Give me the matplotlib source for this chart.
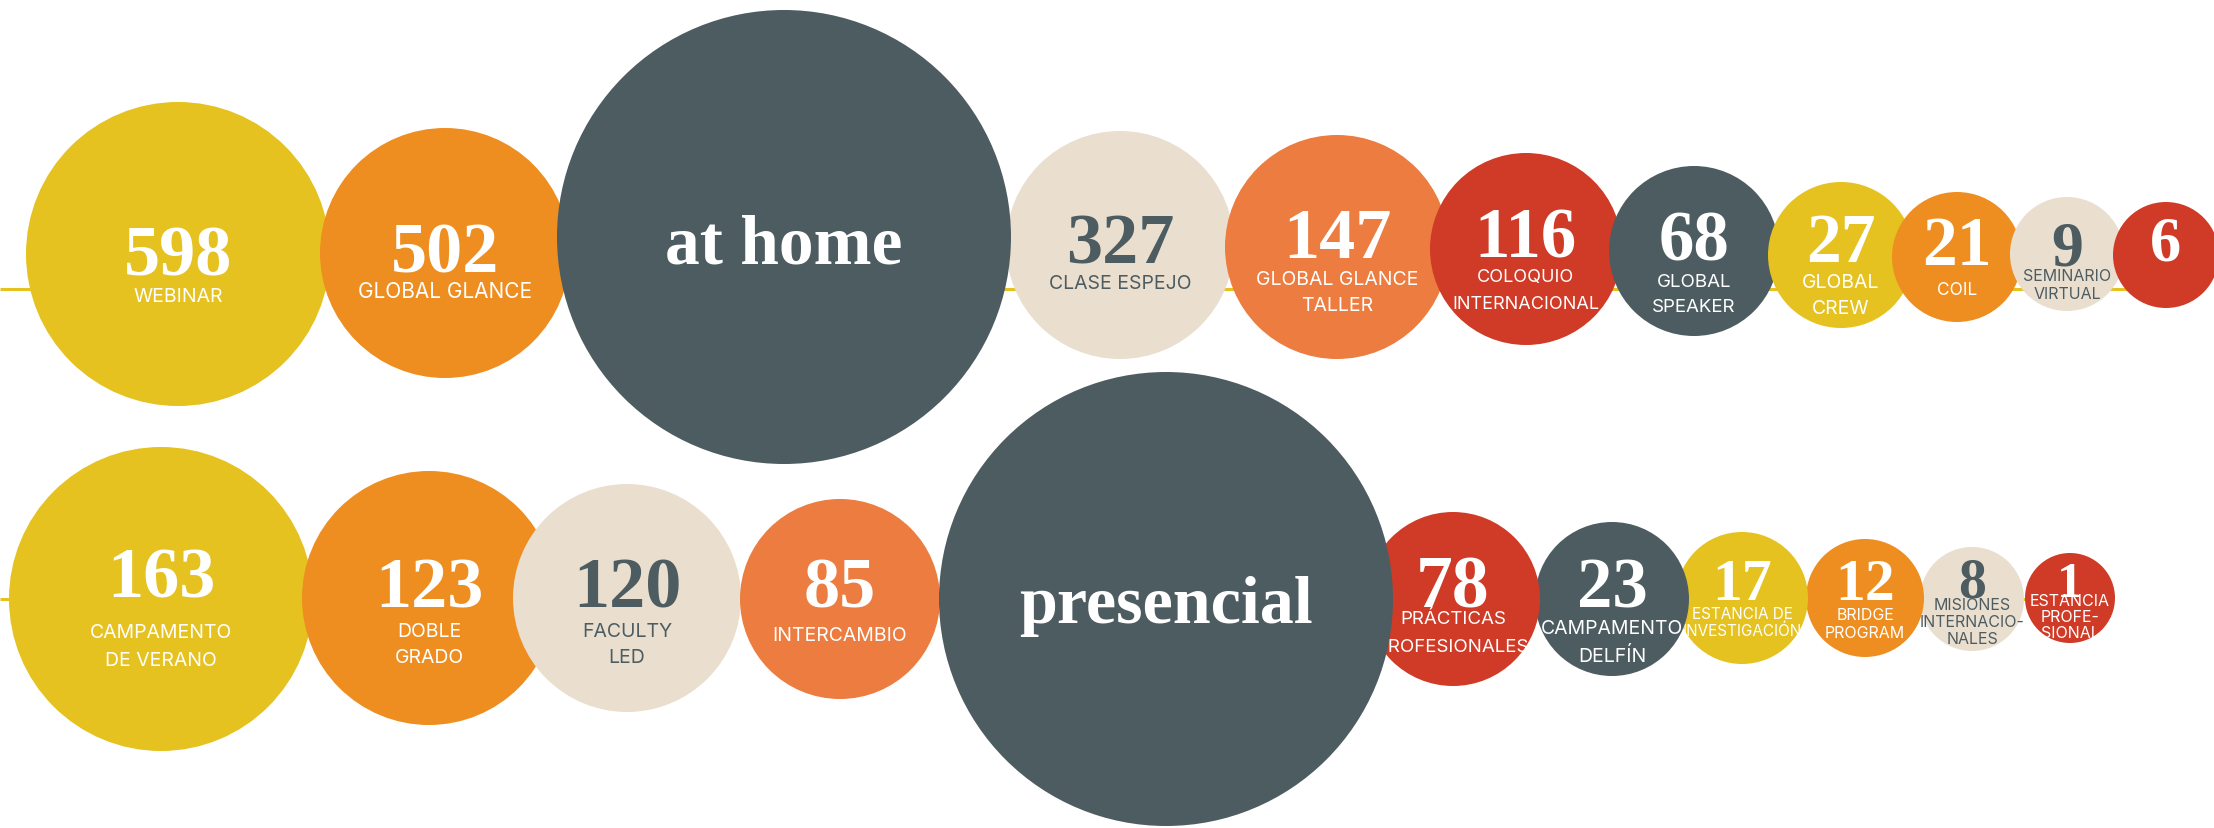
import numpy as np
import matplotlib
matplotlib.use("Agg")
import matplotlib.pyplot as plt
from matplotlib.patches import Circle
from matplotlib.font_manager import FontProperties

# palette
YELLOW = "#E5C220"
ORANGE = "#EE8E21"
CORAL = "#EC7C3F"
RED = "#D03B27"
SLATE = "#4D5C61"
BEIGE = "#EADFCF"

# ---- data ----
top_values = [598, 502, 327, 147, 116, 68, 27, 21, 9, 6]
top_labels = ["WEBINAR", "GLOBAL GLANCE", "CLASE ESPEJO", "GLOBAL GLANCE\nTALLER",
              "COLOQUIO\nINTERNACIONAL", "GLOBAL\nSPEAKER", "GLOBAL\nCREW", "COIL",
              "SEMINARIO\nVIRTUAL", ""]
top_colors = [YELLOW, ORANGE, BEIGE, CORAL, RED, SLATE, YELLOW, ORANGE, BEIGE, RED]
top_hub = "at home"
top_hub_at = 2

bot_values = [163, 123, 120, 85, 78, 23, 17, 12, 8, 1]
bot_labels = ["CAMPAMENTO\nDE VERANO", "DOBLE\nGRADO", "FACULTY\nLED", "INTERCAMBIO",
              "PRÁCTICAS\nPROFESIONALES", "CAMPAMENTO\nDELFÍN", "ESTANCIA DE\nINVESTIGACIÓN",
              "BRIDGE\nPROGRAM", "MISIONES\nINTERNACIO-\nNALES", "ESTANCIA\nPROFE-\nSIONAL"]
bot_colors = [YELLOW, ORANGE, BEIGE, CORAL, RED, SLATE, YELLOW, ORANGE, BEIGE, RED]
bot_hub = "presencial"
bot_hub_at = 4

# ---- layout (pixels, hub included in position order) ----
top_layout = dict(
    x0=178, line_y=290,
    r=[152, 125, 227, 114, 112, 96, 85, 73, 65, 57, 53],
    overlap=[10, 13, 5, 9, 19, 13, 11, 22, 12, 11],
    cy=[255, 254, 238, 246, 248, 250, 252, 256, 258, 255, 256],
    stack=[1, 2, 20, 3, 4, 5, 6, 7, 8, 9, 10],
    num_dy=[20, 18, 25, 17, 10, 7, 8, 6, 7, 10, 4],
    lab_dy=[33, 29, 0, 29, 27, 23, 25, 22, 24, 17, 0],
    num_pt=[52, 52, 50, 52, 52, 51, 51, 50, 50, 46, 45],
    lab_pt=[14, 15, 0, 14, 14, 13, 13.5, 14, 12.5, 11.5, 0],
    lead=[22, 22, 0, 22, 22, 23, 21, 22, 22, 15, 0],
)
bot_layout = dict(
    x0=161, line_y=600,
    r=[152, 127, 114, 100, 227, 87, 77, 66, 59, 52, 45],
    overlap=[11, 43, 1, 1, 27, 5, 13, 2, 4, -1],
    cy=[600, 599, 599, 600, 600, 600, 600, 599, 599, 600, 599],
    stack=[1, 2, 3, 4, 20, 10, 9, 8, 7, 6, 5],
    num_dy=[-2, 8, 8, 7, 23, 7, 7, 1, 1, -3, -2],
    lab_dy=[28, 28, 28, 27, 0, 15, 26, 13, 13, 5, 1],
    num_pt=[52, 52, 52, 52, 49, 53, 51, 43, 43, 40, 37],
    lab_pt=[14, 14, 14, 14, 0, 13.5, 14, 11, 11.5, 11.5, 11.5],
    lead=[24, 22, 22, 22, 0, 23, 22, 13, 15, 13.5, 13],
)

NUM_FONT = "Liberation Serif"
LAB_FONT = "Inter"

W, H = 2214, 829
fig = plt.figure(figsize=(W / 100, H / 100), dpi=100)
ax = fig.add_axes([0, 0, 1, 1])
ax.set_xlim(0, W)
ax.set_ylim(H, 0)
ax.axis("off")
renderer = fig.canvas.get_renderer()


def line_factor(size, lead):
    # matplotlib puts baselines (height of "l") * linespacing apart
    fp = FontProperties(family=LAB_FONT, size=size)
    _, h, d = renderer.get_text_width_height_descent("lp", fp, ismath=False)
    return lead / (h - d)


def draw_row(values, labels, colors, hub, hub_at, lay):
    r = np.array(lay["r"], dtype=float)
    steps = r[:-1] + r[1:] - np.array(lay["overlap"], dtype=float)
    xs = lay["x0"] + np.concatenate([[0], np.cumsum(steps)])

    ax.plot([0, xs[-1]], [lay["line_y"], lay["line_y"]], color=YELLOW, lw=2.2, zorder=0,
            solid_capstyle="butt")

    vals = list(values)
    labs = list(labels)
    cols = list(colors)
    vals.insert(hub_at, None)
    labs.insert(hub_at, "")
    cols.insert(hub_at, SLATE)

    for i, (v, lab, c) in enumerate(zip(vals, labs, cols)):
        cx, cy = xs[i], lay["cy"][i]
        is_hub = v is None
        z = 1 + lay["stack"][i] * 0.01
        circ = Circle((cx, cy), r[i], facecolor=c, edgecolor="none", zorder=z)
        ax.add_patch(circ)
        tc = SLATE if c == BEIGE else "white"
        zt = z + 0.001
        if is_hub:
            ax.text(cx, cy + lay["num_dy"][i], hub, ha="center", va="baseline",
                    fontsize=lay["num_pt"][i], fontfamily=NUM_FONT, fontweight="bold",
                    color="white", zorder=zt)
            continue
        t = ax.text(cx, cy + lay["num_dy"][i], str(v), ha="center", va="baseline",
                    fontsize=lay["num_pt"][i], fontfamily=NUM_FONT, fontweight="bold",
                    color=tc, zorder=zt)
        t.set_clip_path(circ)
        if lab:
            size = lay["lab_pt"][i]
            nlines = lab.count("\n") + 1
            # va="baseline" on multi-line text pins the last line's baseline
            last_base = cy + lay["lab_dy"][i] + size + (nlines - 1) * lay["lead"][i]
            tl = ax.text(cx, last_base, lab, ha="center", va="baseline", multialignment="center",
                         fontsize=size, fontfamily=LAB_FONT,
                         linespacing=line_factor(size, lay["lead"][i]),
                         color=tc, zorder=zt)
            tl.set_clip_path(circ)


draw_row(top_values, top_labels, top_colors, top_hub, top_hub_at, top_layout)
draw_row(bot_values, bot_labels, bot_colors, bot_hub, bot_hub_at, bot_layout)

fig.savefig("out.png", dpi=100, facecolor="white")
